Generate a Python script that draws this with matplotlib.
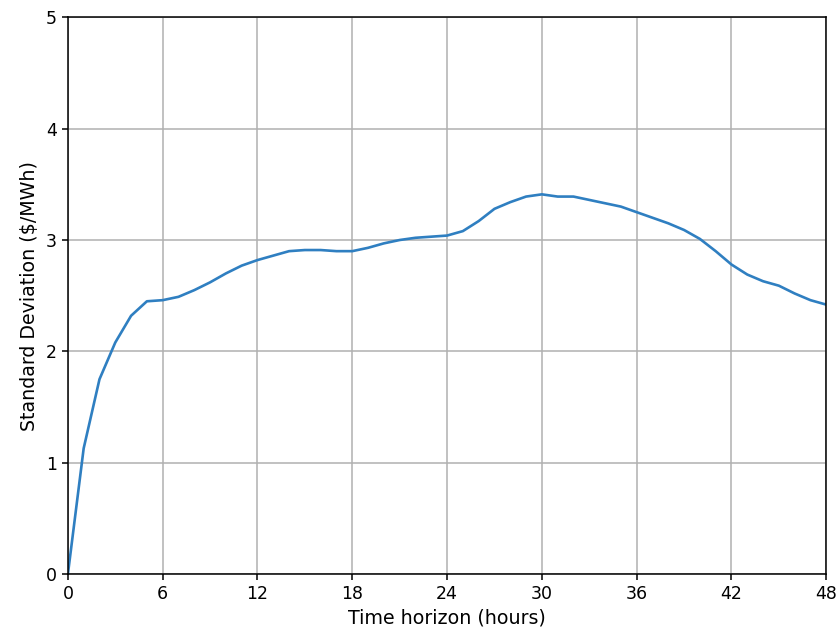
import numpy as np
import matplotlib.pyplot as plt

# Forecast error standard deviation by look-ahead hour
hours = np.arange(0, 49)
std_dev = [0.00, 1.13, 1.75, 2.08, 2.32, 2.45, 2.46, 2.49, 2.55, 2.62,
           2.70, 2.77, 2.82, 2.86, 2.90, 2.91, 2.91, 2.90, 2.90, 2.93,
           2.97, 3.00, 3.02, 3.03, 3.04, 3.08, 3.17, 3.28, 3.34, 3.39,
           3.41, 3.39, 3.39, 3.36, 3.33, 3.30, 3.25, 3.20, 3.15, 3.09,
           3.01, 2.90, 2.78, 2.69, 2.63, 2.59, 2.52, 2.46, 2.42]

fig = plt.figure(figsize=(8.38, 6.38), dpi=100)
ax = fig.add_axes([0.081, 0.100, 0.905, 0.873])

ax.plot(hours, std_dev, color='#2f7fc1', linewidth=1.9)

ax.set_xlim(0, 48)
ax.set_ylim(0, 5)
ax.set_xticks(np.arange(0, 49, 6))
ax.set_yticks(np.arange(0, 6, 1))
ax.grid(True, color='#b0b0b0', linewidth=1.1)
ax.tick_params(labelsize=12.5, length=4.5, width=1.1)
for s in ax.spines.values():
    s.set_linewidth(1.1)

ax.set_xlabel('Time horizon (hours)', fontsize=13.7, labelpad=4)
ax.set_ylabel('Standard Deviation ($/MWh)', fontsize=13.7, labelpad=5)

fig.savefig('out.png', dpi=100)
